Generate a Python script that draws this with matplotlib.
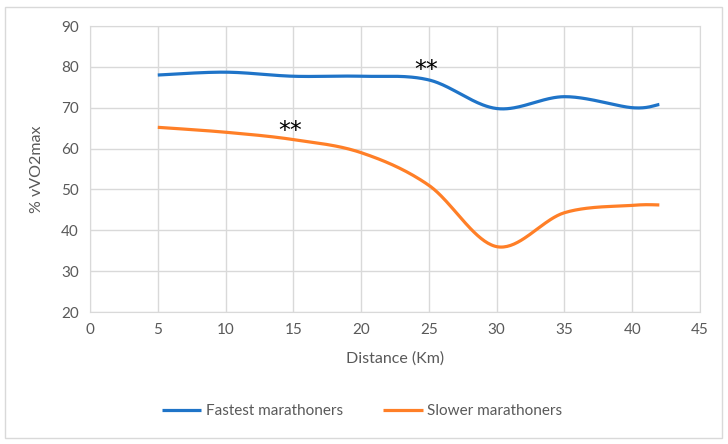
import numpy as np
import matplotlib
matplotlib.use("Agg")
import matplotlib.pyplot as plt
from matplotlib.patches import Rectangle

# ── Data ──────────────────────────────────────────────────────────
distance = [5, 10, 15, 20, 25, 30, 35, 40, 42]
fastest = [78.0, 78.7, 77.7, 77.7, 76.8, 69.8, 72.7, 70.0, 70.8]
slower = [65.2, 64.0, 62.2, 59.0, 51.0, 36.0, 44.3, 46.1, 46.2]
series_names = ["Fastest marathoners", "Slower marathoners"]
stars = [(24.8, 79.2), (14.8, 64.4)]  # "**" annotations (x, y)

x_ticks = list(range(0, 50, 5))
y_ticks = list(range(20, 100, 10))

BLUE = "#1f74c8"
ORANGE = "#ff7f27"
GRID = "#d9d9d9"
TEXT = "#595959"

plt.rcParams["font.family"] = ["Lato", "DejaVu Sans"]


def smooth(xs, ys, n=40):
    # Excel-like smoothed line: Catmull-Rom bezier through the points
    p = np.column_stack([xs, ys]).astype(float)
    p = np.vstack([p[0], p, p[-1]])
    out = []
    for i in range(1, len(p) - 2):
        p0, p1, p2, p3 = p[i - 1], p[i], p[i + 1], p[i + 2]
        c1 = p1 + (p2 - p0) / 6
        c2 = p2 - (p3 - p1) / 6
        t = np.linspace(0, 1, n)[:, None]
        seg = ((1 - t) ** 3) * p1 + 3 * ((1 - t) ** 2) * t * c1 \
            + 3 * (1 - t) * t ** 2 * c2 + t ** 3 * p2
        out.append(seg if i == 1 else seg[1:])
    out = np.vstack(out)
    return out[:, 0], out[:, 1]


fig = plt.figure(figsize=(7.28, 4.44), dpi=100)
ax = fig.add_axes([90 / 728, 1 - 312 / 444, 610 / 728, 286 / 444])

for ys, c, name in [(fastest, BLUE, series_names[0]), (slower, ORANGE, series_names[1])]:
    sx, sy = smooth(distance, ys)
    ax.plot(sx, sy, color=c, lw=2.3, label=name, solid_capstyle="butt")

for sx, sy in stars:
    ax.text(sx, sy, "**", ha="center", va="center", fontsize=17,
            color="black", family="DejaVu Sans")

ax.set_xlim(0, 45)
ax.set_ylim(20, 90)
ax.set_xticks(x_ticks)
ax.set_yticks(y_ticks)
ax.grid(True, color=GRID, lw=1)
ax.set_axisbelow(True)
for s in ax.spines.values():
    s.set_color(GRID)
ax.tick_params(length=0, colors=TEXT, labelsize=11, pad=8)
ax.set_xlabel("Distance (Km)", color=TEXT, fontsize=11.5, labelpad=10)
ax.set_ylabel("% vVO2max", color=TEXT, fontsize=11.5, labelpad=12)

fig.legend(loc="center", bbox_to_anchor=(362 / 728, 1 - 411 / 444), ncol=2,
           frameon=False, fontsize=11, labelcolor=TEXT, handlelength=2.6,
           handletextpad=0.3, columnspacing=2.6)

fig.patches.append(Rectangle((5 / 728, 6 / 444), 717 / 728, 431 / 444,
                             transform=fig.transFigure, fill=False,
                             edgecolor=GRID, lw=1))

fig.savefig("out.png", dpi=100)
